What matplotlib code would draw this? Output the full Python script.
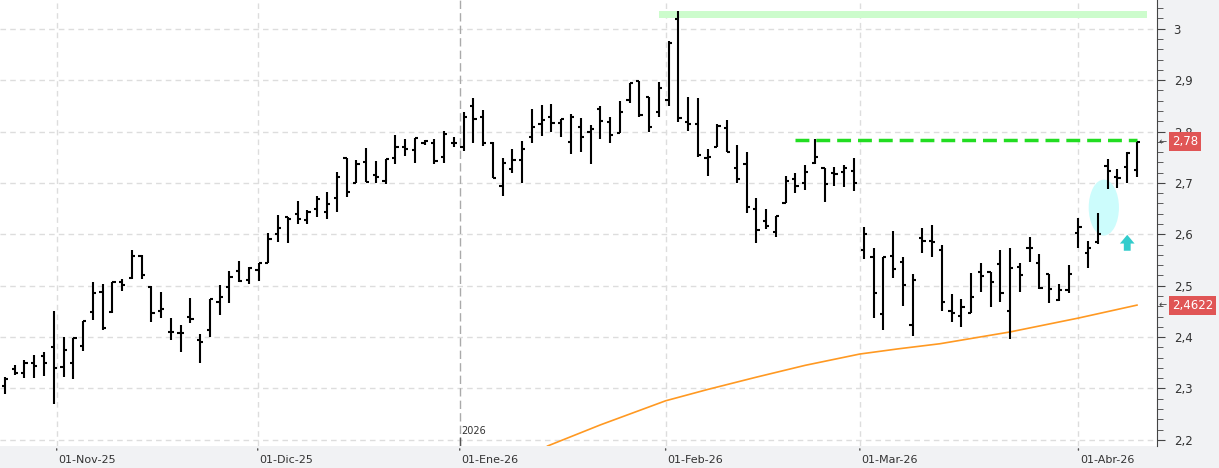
import matplotlib
matplotlib.use("Agg")
import matplotlib.pyplot as plt
from matplotlib.patches import Ellipse, FancyArrow
import numpy as np

opens = [2.305,2.338,2.330,2.350,2.363,2.381,2.342,2.350,2.383,2.449,2.488,2.449,2.507,2.515,2.558,2.498,2.451,2.410,2.408,2.439,
         2.395,2.414,2.468,2.498,2.529,2.511,2.531,2.544,2.601,2.634,2.640,2.628,2.649,2.644,2.671,2.749,2.700,2.741,2.716,2.704,
         2.749,2.770,2.764,2.778,2.778,2.751,2.778,2.770,2.850,2.828,2.778,2.694,2.727,2.745,2.789,2.815,2.828,2.817,2.780,2.809,
         2.799,2.844,2.819,2.797,2.861,2.898,2.867,2.838,2.861,3.019,2.819,2.815,2.749,2.770,2.807,2.729,2.737,2.649,2.626,2.605,
         2.661,2.708,2.700,2.739,2.729,2.719,2.721,2.723,2.570,2.556,2.445,2.558,2.546,2.424,2.593,2.587,2.570,2.451,2.441,2.447,
         2.527,2.527,2.542,2.451,2.537,2.574,2.544,2.523,2.472,2.492,2.603,2.564,2.585,2.733,2.712,2.731,2.725]
highs = [2.323,2.346,2.356,2.365,2.371,2.451,2.400,2.398,2.431,2.507,2.503,2.507,2.513,2.570,2.560,2.500,2.488,2.437,2.424,2.476,
         2.406,2.474,2.502,2.529,2.548,2.537,2.544,2.603,2.638,2.634,2.665,2.647,2.675,2.682,2.721,2.749,2.745,2.768,2.743,2.747,
         2.793,2.786,2.788,2.784,2.786,2.801,2.789,2.838,2.865,2.842,2.780,2.749,2.766,2.782,2.844,2.852,2.854,2.824,2.834,2.826,
         2.813,2.850,2.828,2.860,2.895,2.898,2.867,2.896,2.976,3.035,2.867,2.865,2.766,2.815,2.823,2.774,2.760,2.671,2.649,2.636,
         2.714,2.719,2.735,2.786,2.729,2.731,2.735,2.749,2.614,2.574,2.556,2.607,2.556,2.523,2.612,2.618,2.579,2.484,2.474,2.525,
         2.544,2.527,2.570,2.574,2.544,2.595,2.562,2.523,2.503,2.540,2.632,2.587,2.642,2.747,2.727,2.760,2.780]
lows = [2.289,2.326,2.321,2.321,2.324,2.270,2.323,2.319,2.373,2.433,2.414,2.447,2.490,2.513,2.513,2.430,2.437,2.395,2.371,2.428,
        2.350,2.400,2.443,2.467,2.507,2.503,2.509,2.544,2.585,2.583,2.620,2.620,2.634,2.630,2.644,2.673,2.700,2.702,2.700,2.698,
        2.737,2.752,2.739,2.774,2.737,2.739,2.770,2.762,2.778,2.772,2.710,2.675,2.719,2.700,2.778,2.791,2.799,2.789,2.756,2.760,
        2.737,2.786,2.778,2.797,2.856,2.828,2.799,2.828,2.850,2.819,2.801,2.751,2.714,2.770,2.760,2.700,2.642,2.583,2.610,2.595,
        2.661,2.681,2.686,2.737,2.663,2.694,2.692,2.684,2.552,2.437,2.414,2.515,2.461,2.402,2.564,2.556,2.451,2.430,2.420,2.447,
        2.488,2.459,2.468,2.396,2.488,2.546,2.494,2.467,2.470,2.486,2.574,2.535,2.581,2.688,2.690,2.700,2.712]
closes = [2.319,2.330,2.350,2.344,2.350,2.340,2.375,2.398,2.431,2.486,2.418,2.507,2.502,2.558,2.521,2.447,2.455,2.410,2.408,2.435,
          2.391,2.474,2.478,2.517,2.509,2.535,2.544,2.591,2.612,2.630,2.630,2.644,2.669,2.659,2.712,2.682,2.737,2.702,2.712,2.747,
          2.770,2.766,2.788,2.782,2.743,2.795,2.778,2.828,2.824,2.778,2.710,2.739,2.745,2.766,2.809,2.823,2.817,2.824,2.828,2.789,
          2.805,2.821,2.793,2.838,2.895,2.832,2.809,2.885,2.972,2.826,2.815,2.754,2.751,2.811,2.760,2.708,2.653,2.609,2.616,2.636,
          2.704,2.694,2.721,2.751,2.698,2.717,2.729,2.700,2.601,2.486,2.556,2.533,2.502,2.511,2.587,2.585,2.468,2.447,2.459,2.478,
          2.519,2.507,2.486,2.535,2.521,2.574,2.496,2.494,2.492,2.523,2.614,2.574,2.601,2.723,2.710,2.758,2.780]

ma_idx = [55.6, 61, 67.7, 72, 77, 82, 87.6, 91.5, 95.8, 103, 110, 116]
ma_val = [2.188, 2.229, 2.276, 2.298, 2.322, 2.345, 2.367, 2.377, 2.387, 2.410, 2.437, 2.4622]

date_labels = ["01-Nov-25", "01-Dic-25", "01-Ene-26", "01-Feb-26", "01-Mar-26", "01-Abr-26"]
date_pos = [5.3, 25.9, 46.6, 67.7, 87.6, 110.0]
yticks = [2.2, 2.3, 2.4, 2.5, 2.6, 2.7, 2.8, 2.9, 3.0]
resistance = 2.784
top_band = (3.021, 3.035)
last_price = 2.78
ma_last = 2.4622

W, H = 1219, 468
fig = plt.figure(figsize=(W/100, H/100), dpi=100)
fig.patch.set_facecolor("#f1f2f4")
ax = fig.add_axes([0, 22/H, 1157/W, 1 - 22/H])
ax.set_facecolor("white")
n = len(opens)
x = np.arange(n)
ax.set_xlim(-0.51, 118.05)
ax.set_ylim(2.188, 3.056)

for yv in yticks:
    ax.axhline(yv, color="#dddddd", lw=1, ls=(0, (4, 3)), zorder=0)
for i, p in enumerate(date_pos):
    ax.axvline(p, color="#aaaaaa" if i == 2 else "#dddddd", lw=1, ls=(0, (6, 3)) if i == 2 else (0, (4, 3)), zorder=0)

ax.fill_between([67.0, 117.0], top_band[0], top_band[1], color="#ccfccc", lw=0, zorder=1)
ax.hlines(resistance, 81, 116, color="#22dd22", lw=2.5, linestyles=(0, (4, 2)), zorder=2)
ax.plot(ma_idx, ma_val, color="#ff9922", lw=1.2, zorder=2)
ax.add_patch(Ellipse((112.6, 2.652), 3.1, 0.109, color="#ccfcfc", lw=0, zorder=1))
ax.add_patch(FancyArrow(115.0, 2.568, 0, 0.014, width=0.7, head_width=1.5, head_length=0.017,
                        color="#33cccc", lw=0, length_includes_head=False, zorder=2))

ax.vlines(x, lows, highs, color="black", lw=1.5, zorder=3)
ax.hlines(opens, x - 0.33, x, color="black", lw=1.5, zorder=3)
ax.hlines(closes, x, x + 0.33, color="black", lw=1.5, zorder=3)

for s in ["top", "left", "bottom"]:
    ax.spines[s].set_visible(False)
ax.spines["right"].set_color("#444444")
ax.yaxis.tick_right()
ax.set_yticks(yticks)
ax.set_yticklabels([("%g" % v).replace(".", ",") for v in yticks], fontsize=8.5, color="#333333")
ax.set_yticks(np.arange(2.2, 3.06, 0.02), minor=True)
ax.tick_params(axis="y", which="major", length=6, color="#444444", pad=6)
ax.tick_params(axis="y", which="minor", length=4, color="#444444")
ax.set_xticks([])

for lbl, p in zip(date_labels, date_pos):
    ax.annotate(lbl, (p, 2.188), xytext=(1, -10), textcoords="offset points", fontsize=8,
                color="#333333", ha="left", va="center", annotation_clip=False)
    ax.annotate("", (p, 2.188), xytext=(0, -5), textcoords="offset points",
                arrowprops=dict(arrowstyle="-", color="#555555", lw=1), annotation_clip=False)
ax.vlines(date_pos[2], 2.188, 2.205, color="#555555", lw=1, zorder=4)
ax.text(date_pos[2] + 0.2, 2.207, "2026", fontsize=7, color="#333333", ha="left", va="bottom")

for val, txt in [(last_price, "2,78"), (ma_last, "2,4622")]:
    ax.annotate(txt, (1, val), xycoords=("axes fraction", "data"), xytext=(11, 0), textcoords="offset points",
                fontsize=8.5, color="white", va="center", ha="left", annotation_clip=False,
                bbox=dict(boxstyle="square,pad=0.25", fc="#e05555", ec="none"))
    ax.annotate("\u2190", (1, val), xycoords=("axes fraction", "data"), xytext=(1, 0), textcoords="offset points",
                fontsize=7, color="#444444", va="center", ha="left", annotation_clip=False)

fig.savefig("out.png", dpi=100, facecolor=fig.get_facecolor())
